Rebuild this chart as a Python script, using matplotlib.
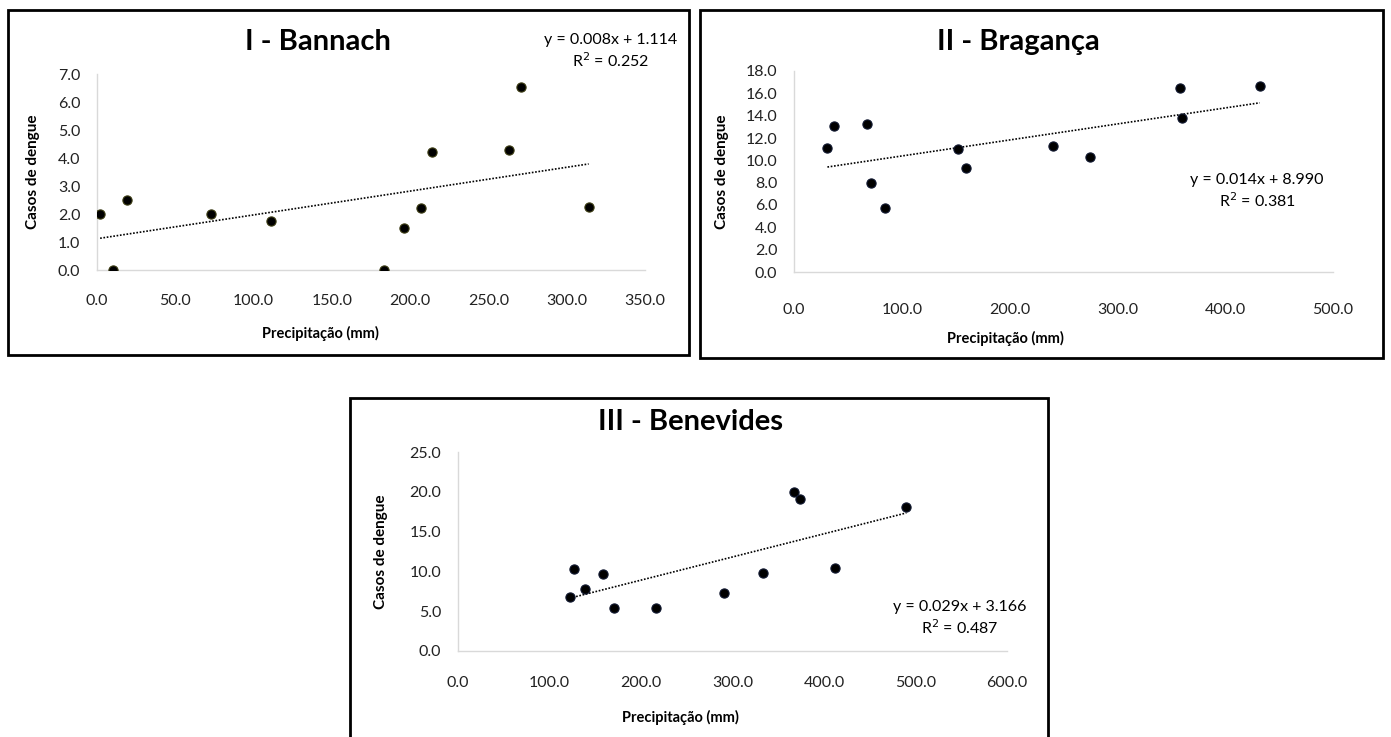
#!/usr/bin/env python
# Dengue cases vs precipitation, three municipalities, each with a linear trendline
import numpy as np
import matplotlib.pyplot as plt
from matplotlib.patches import Rectangle

plt.rcParams['font.family'] = ['Lato', 'DejaVu Sans']

W, H = 1391, 737

# ---- data ----
bannach_prec = [2, 10, 19, 73, 111, 183, 196, 207, 214, 263, 271, 314]
bannach_casos = [2.0, 0.0, 2.5, 2.0, 1.75, 0.0, 1.5, 2.2, 4.2, 4.3, 6.55, 2.25]

braganca_prec = [31, 37, 68, 71, 84, 152, 160, 240, 275, 358, 360, 432]
braganca_casos = [11.1, 13.1, 13.25, 7.95, 5.7, 11.0, 9.3, 11.3, 10.3, 16.5, 13.8, 16.7]

benevides_prec = [122, 127, 139, 158, 170, 216, 291, 333, 367, 374, 412, 490]
benevides_casos = [6.8, 10.3, 7.8, 9.7, 5.4, 5.4, 7.3, 9.8, 20.0, 19.1, 10.4, 18.1]

titles = ['I - Bannach', 'II - Bragança', 'III - Benevides']
equations = ['y = 0.008x + 1.114', 'y = 0.014x + 8.990', 'y = 0.029x + 3.166']
r2_text = ['R$^2$ = 0.252', 'R$^2$ = 0.381', 'R$^2$ = 0.487']
xmax = [350, 500, 600]
xstep = [50, 100, 100]
ymax = [7, 18, 25]
ystep = [1, 2, 5]
edge = ['#3b3b12', '#101830', '#101830']

fig = plt.figure(figsize=(W / 100, H / 100), dpi=100)


def fx(px):
    return px / W


def fy(py):
    return 1 - py / H


def panel(box, ax_px, xs, ys, i, title_xy, eq_xy, ylab_x, xlab_xy, xpad, ypad):
    # outer box
    bx0, by0, bx1, by1 = box
    fig.patches.append(Rectangle((fx(bx0), fy(by1)), fx(bx1 - bx0), (by1 - by0) / H,
                                 transform=fig.transFigure, fill=False,
                                 edgecolor='black', linewidth=2.0))
    x0, y0, x1, y1 = ax_px
    ax = fig.add_axes([fx(x0), fy(y1), fx(x1 - x0), (y1 - y0) / H])
    ax.scatter(xs, ys, s=44, color='black', edgecolors=edge[i], linewidths=0.8, zorder=3)
    # linear trendline
    k, b = np.polyfit(xs, ys, 1)
    xl = np.array([min(xs), max(xs)])
    ax.plot(xl, k * xl + b, color='black', linestyle=(0, (1, 1)), linewidth=1.2)

    ax.set_xlim(0, xmax[i])
    ax.set_ylim(0, ymax[i])
    ax.set_xticks(np.arange(0, xmax[i] + 1, xstep[i]))
    ax.set_yticks(np.arange(0, ymax[i] + 0.01, ystep[i]))
    ax.xaxis.set_major_formatter(plt.FormatStrFormatter('%.1f'))
    ax.yaxis.set_major_formatter(plt.FormatStrFormatter('%.1f'))
    ax.tick_params(length=0, labelsize=11.5, colors='#222222')
    ax.tick_params(axis='x', pad=xpad)
    ax.tick_params(axis='y', pad=ypad)
    for s in ['top', 'right']:
        ax.spines[s].set_visible(False)
    for s in ['left', 'bottom']:
        ax.spines[s].set_color('#d9d9d9')
        ax.spines[s].set_linewidth(1.0)

    fig.text(fx(title_xy[0]), fy(title_xy[1]), titles[i], fontsize=21, fontweight='bold',
             ha='center', va='center')
    fig.text(fx(eq_xy[0]), fy(eq_xy[1]), equations[i], fontsize=11.5, ha='center', va='center')
    fig.text(fx(eq_xy[0]), fy(eq_xy[1] + 21), r2_text[i], fontsize=11.5, ha='center', va='center')
    fig.text(fx(ylab_x), fy((y0 + y1) / 2), 'Casos de dengue', fontsize=11, fontweight='bold',
             rotation=90, ha='center', va='center')
    fig.text(fx(xlab_xy[0]), fy(xlab_xy[1]), 'Precipitação (mm)', fontsize=10.5,
             fontweight='bold', ha='center', va='center')
    return ax


panel((8, 10, 689, 355), (97, 74, 645, 270), bannach_prec, bannach_casos, 0,
      (318, 42), (611, 40), 33, (320, 333), 17, 12)
panel((700, 10, 1383, 358), (794, 71, 1333, 272), braganca_prec, braganca_casos, 1,
      (1018, 42), (1257, 180), 722, (1005, 338), 22, 12)
panel((350, 398, 1048, 745), (458, 452, 1007, 651), benevides_prec, benevides_casos, 2,
      (690, 422), (960, 607), 381, (680, 717), 18, 12)

plt.savefig('out.png', dpi=100)
